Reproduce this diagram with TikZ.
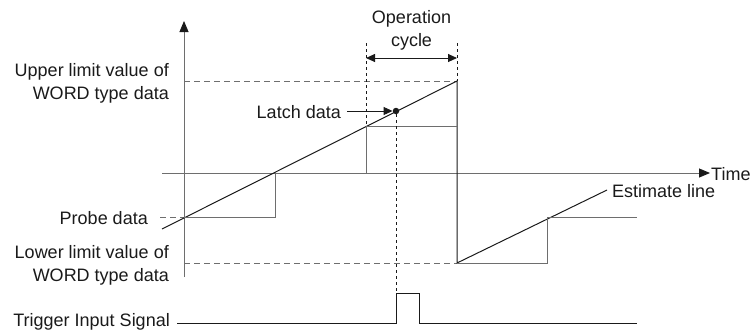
\documentclass[tikz,border=0pt]{standalone}
\usepackage{fontspec}
\setmainfont{Liberation Sans}
\definecolor{mAxisGray}{HTML}{6E6E6E}
\definecolor{mInk}{HTML}{1A1A1A}
\usetikzlibrary{positioning,arrows.meta,calc}

\begin{document}
\begin{tikzpicture}[x=1pt, y=-1pt, font=\fontsize{18}{23}\selectfont,
  lbl/.style={inner sep=0pt, text=mInk},
  axis/.style={mAxisGray, line width=0.9pt},
  stair/.style={mAxisGray, line width=0.9pt},
  ramp/.style={mInk, line width=1pt},
  limit/.style={mAxisGray, line width=0.8pt, dash pattern=on 6pt off 4pt},
  guide/.style={mInk, line width=0.6pt, dash pattern=on 3pt off 3pt}]
\useasboundingbox (0,0) rectangle (751,330);
% axes
\coordinate (yb) at (184,277); \coordinate (yt) at (184,21);
\coordinate (tl) at (162,173); \coordinate (tr) at (710,173);
\draw[axis, -{Triangle[length=11pt, width=9pt, color=mInk]}] (yb)--(yt);
\draw[axis, -{Triangle[length=11pt, width=9pt, color=mInk]}] (tl)--(tr);
\node[lbl, anchor=west] (time) at (711,174) {Time};
% limits
\coordinate (up0) at (184,81); \coordinate (up1) at (457,81);
\coordinate (lo0) at (184,263); \coordinate (lo1) at (457,263);
\draw[limit] (up0)--(up1); \draw[limit] (lo0)--(lo1);
\node[lbl, anchor=east, align=right] (upper) at (169,83) {Upper limit value of\\WORD type data};
\node[lbl, anchor=east, align=right] (lower) at (169,265.5) {Lower limit value of\\WORD type data};
% probe data
\coordinate (pr0) at (160,217); \coordinate (pr1) at (184,217);
\draw[limit] (pr0)--(pr1);
\node[lbl, anchor=east] (probe) at (148,218.5) {Probe data};
% ramp and samples
\coordinate (r0) at (162,229); \coordinate (est) at (607,190);
\draw[ramp] (r0)--(up1)--(lo1)--(est);
\draw[stair] (pr1)--(275,217)--(275,173)--(366,173)--(366,126)--(457,126);
\draw[stair] (lo1)--(547,263)--(547,217)--(637,217);
\node[lbl, anchor=west] (estl) at (612,191) {Estimate line};
% operation cycle
\coordinate (oc0) at (366,43); \coordinate (oc1) at (457,43);
\draw[guide] (oc0)--(366,126); \draw[guide] (oc1)--(up1);
\draw[mInk, line width=0.9pt, {Triangle[length=9pt, width=8pt]}-{Triangle[length=9pt, width=8pt]}] (366,58)--(457,58);
\node[lbl, align=center] (cycle) at (411.5,30) {Operation\\cycle};
% latch data
\node[lbl, anchor=east] (latch) at (341,112) {Latch data};
\node[circle, fill=mInk, inner sep=0pt, minimum size=6.5pt] (dot) at (396,111) {};
\draw[mInk, line width=0.9pt, -{Triangle[length=9pt, width=8pt]}] (347,111)--(dot);
% trigger input signal
\coordinate (tg0) at (177,323); \coordinate (tg1) at (637,323);
\draw[guide] (dot)--(396,293);
\draw[mInk, line width=1pt] (tg0)--(396,323)--(396,293)--(419,293)--(419,323)--(tg1);
\node[lbl, anchor=east] (trig) at (170,321.5) {Trigger Input Signal};
\end{tikzpicture}
\end{document}
